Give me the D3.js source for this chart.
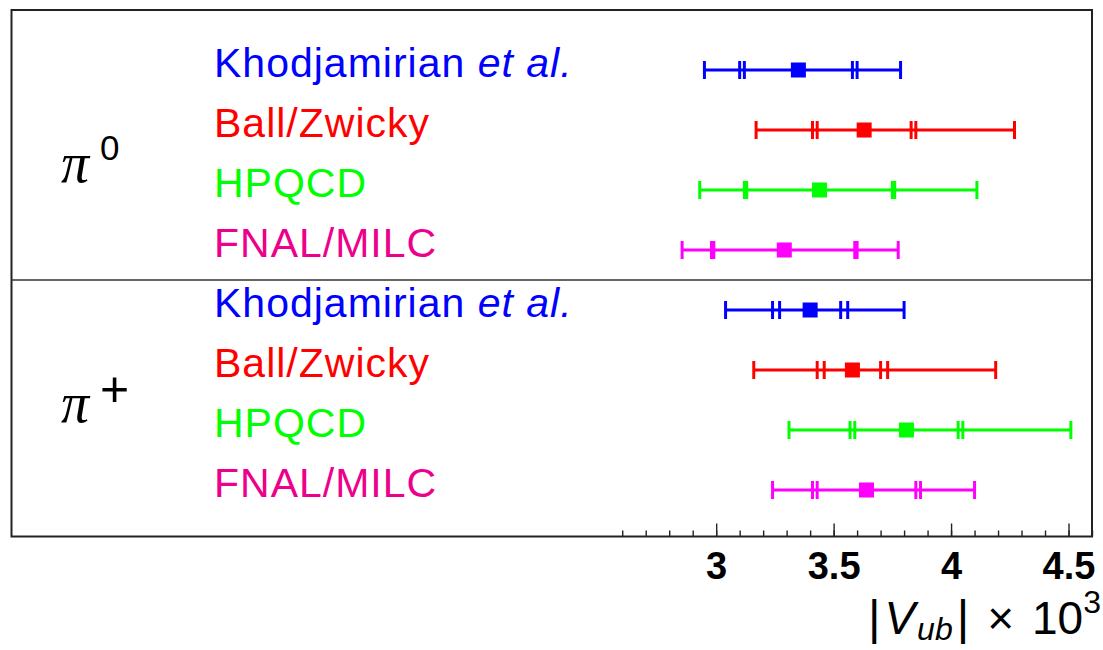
<!DOCTYPE html>
<html>
<head>
<meta charset="utf-8">
<script src="https://cdn.jsdelivr.net/npm/d3@7"></script>
<style>
  html, body { margin: 0; padding: 0; background: #fff; }
  svg { display: block; }
</style>
</head>
<body>
<svg id="chart" width="1103" height="650"></svg>
<script>
// |V_ub| x 10^3 determinations from B -> pi l nu, per form-factor input
const channels = ["0", "+"];                       // pi^0 and pi^+ blocks
const methods = ["Khodjamirian", "Ball/Zwicky", "HPQCD", "FNAL/MILC"];
const methodColors = ["#0000ff", "#ff0000", "#00ff00", "#ff00ff"];
const labelColors = ["#0000ff", "#ff0000", "#00ff00", "#ec008c"];

// one entry per row: pi^0 rows first, then pi^+ rows
const central      = [3.35, 3.63, 3.44, 3.29, 3.40, 3.58, 3.81, 3.64];
const innerErrA    = [0.23, 0.20, 0.31, 0.30, 0.13, 0.12, 0.22, 0.21];
const innerErrB    = [0.25, 0.22, 0.32, 0.31, 0.16, 0.15, 0.24, 0.23];
const totalErrLow  = [0.40, 0.46, 0.51, 0.435, 0.36, 0.42, 0.50, 0.40];
const totalErrHigh = [0.435, 0.64, 0.67, 0.485, 0.40, 0.61, 0.70, 0.46];

const majorTicks = [3, 3.5, 4, 4.5];
const minorTicks = d3.range(26, 47).map(d => d / 10);

const rows = central.map((c, i) => ({
  i,
  method: i % 4,
  c,
  a: innerErrA[i],
  b: innerErrB[i],
  lo: c - totalErrLow[i],
  hi: c + totalErrHigh[i]
}));

const svg = d3.select("#chart");
const frame = { left: 11.5, top: 10, right: 1092, bottom: 536.5 };

const x = d3.scaleLinear().domain([0, 4.6]).range([frame.left, frame.right]);
const y = d3.scalePoint().domain(d3.range(rows.length)).range([70, 490]);

// axis ticks pointing into the frame
const minorAxis = d3.axisBottom(x).tickValues(minorTicks).tickSize(-6).tickFormat("");
const majorAxis = d3.axisBottom(x).tickValues(majorTicks).tickSize(-13).tickPadding(16)
  .tickFormat(d3.format("~g"));

const gMinor = svg.append("g").attr("transform", `translate(0,${frame.bottom})`).call(minorAxis);
const gMajor = svg.append("g").attr("transform", `translate(0,${frame.bottom})`).call(majorAxis);
[gMinor, gMajor].forEach(g => {
  g.select(".domain").remove();
  g.selectAll(".tick line").attr("stroke", "#222").attr("stroke-width", 1.4);
});
gMajor.selectAll(".tick text")
  .attr("fill", "#000")
  .attr("font-family", "'Liberation Sans', Arial, sans-serif")
  .attr("font-weight", "bold")
  .attr("font-size", 38);

// frame and separator between the two channels
svg.append("rect")
  .attr("x", frame.left).attr("y", frame.top)
  .attr("width", frame.right - frame.left).attr("height", frame.bottom - frame.top)
  .attr("fill", "none").attr("stroke", "#222").attr("stroke-width", 2);
const sepY = (y(3) + y(4)) / 2;
svg.append("line")
  .attr("x1", frame.left).attr("x2", frame.right)
  .attr("y1", sepY).attr("y2", sepY)
  .attr("stroke", "#333").attr("stroke-width", 1.6);

// method labels
const labels = svg.append("g")
  .attr("font-family", "'Liberation Sans', Arial, sans-serif")
  .attr("font-size", 41)
  .attr("letter-spacing", 1);
rows.forEach(r => {
  const t = labels.append("text")
    .attr("x", 214).attr("y", y(r.i) + 7)
    .attr("fill", labelColors[r.method]);
  t.append("tspan").text(methods[r.method]);
  if (r.method === 0) {
    t.append("tspan").text(" et al.").attr("font-style", "italic");
  }
});

// channel labels pi^0 / pi^+
channels.forEach((ch, k) => {
  const mid = (y(k * 4) + y(k * 4 + 3)) / 2;
  svg.append("text")
    .attr("x", 61).attr("y", mid + 22)
    .attr("font-family", "'Liberation Serif', 'Times New Roman', serif")
    .attr("font-style", "italic")
    .attr("font-size", 56)
    .attr("fill", "#000")
    .text("π");
  svg.append("text")
    .attr("x", 100)
    .attr("y", ch === "0" ? mid : mid + 6)
    .attr("font-family", "'Liberation Sans', Arial, sans-serif")
    .attr("font-size", ch === "0" ? 35 : 50)
    .attr("fill", "#000")
    .text(ch);
});

// error bars
const bars = svg.append("g");
const capH = 9;
rows.forEach(r => {
  const g = bars.append("g").attr("stroke", methodColors[r.method]).attr("fill", methodColors[r.method]);
  const yy = y(r.i);
  g.append("line")
    .attr("x1", x(r.lo)).attr("x2", x(r.hi))
    .attr("y1", yy).attr("y2", yy)
    .attr("stroke-width", 2.8);
  const caps = [r.lo, r.hi, r.c - r.a, r.c - r.b, r.c + r.a, r.c + r.b];
  caps.forEach(v => {
    g.append("line")
      .attr("x1", x(v)).attr("x2", x(v))
      .attr("y1", yy - capH).attr("y2", yy + capH)
      .attr("stroke-width", 3);
  });
  g.append("rect")
    .attr("x", x(r.c) - 7.5).attr("y", yy - 7.5)
    .attr("width", 15).attr("height", 15)
    .attr("stroke", "none");
});

// axis title |V_ub| x 10^3
const title = svg.append("text")
  .attr("x", 1101).attr("y", 634)
  .attr("text-anchor", "end")
  .attr("font-family", "'Liberation Sans', Arial, sans-serif")
  .attr("font-size", 46)
  .attr("fill", "#000");
title.append("tspan").text("|").attr("font-size", 48);
title.append("tspan").text("V").attr("font-style", "italic").attr("dx", 4);
title.append("tspan").text("ub").attr("font-style", "italic").attr("font-size", 32).attr("dx", 2).attr("dy", 6);
title.append("tspan").text("|").attr("font-size", 48).attr("dx", 4).attr("dy", -6);
title.append("tspan").text("×").attr("dx", 18);
title.append("tspan").text("10").attr("dx", 18);
title.append("tspan").text("3").attr("font-size", 32).attr("dy", -21);
</script>
</body>
</html>
